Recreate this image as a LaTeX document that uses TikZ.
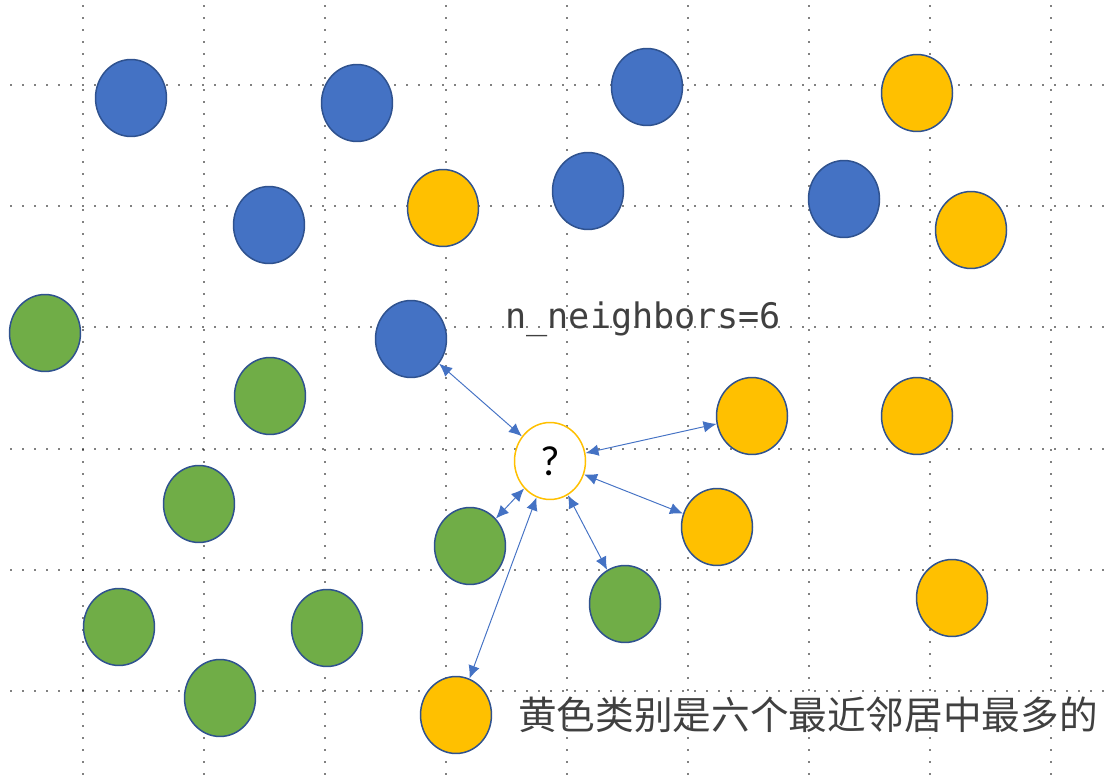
\documentclass[tikz,border=0pt]{standalone}
\usepackage{fontspec}
\usepackage{tikz}
\usetikzlibrary{shapes.geometric,arrows.meta}
\newfontfamily\cjk{Noto Sans CJK SC}
\newfontfamily\nbfont{DejaVu Sans Mono}
\newfontfamily\qfont{Carlito}
\definecolor{ptblue}{HTML}{4472C4}
\definecolor{ptyellow}{HTML}{FFC000}
\definecolor{ptgreen}{HTML}{70AD47}
\definecolor{ptedge}{HTML}{2F528F}
\definecolor{txtgray}{HTML}{404040}

\begin{document}
\begin{tikzpicture}[x=0.02cm,y=-0.02cm,
    pt/.style={ellipse,draw=ptedge,line width=0.85pt,minimum width=1.42cm,minimum height=1.54cm,inner sep=0pt},
    blue/.style={pt,fill=ptblue},
    yel/.style={pt,fill=ptyellow},
    grn/.style={pt,fill=ptgreen},
    link/.style={draw=ptblue,line width=0.55pt,{Latex[length=2.6mm,width=2.3mm]}-{Latex[length=2.6mm,width=2.3mm]}}]
    \useasboundingbox (0,0) rectangle (1118,783);
    % dotted grid
    \foreach \gy in {85,206,327,449,570,691}
        \foreach \gx in {11,23,...,1110}
            \fill (\gx,\gy) circle (0.5pt);
    \foreach \gx in {83,204,325,446,567,688,809,930,1051}
        \foreach \gy in {6,18,...,780}
            \fill (\gx,\gy) circle (0.5pt);

    \node at (131,98) [blue] (b1) {};
    \node at (357,103) [blue] (b2) {};
    \node at (647,87) [blue] (b3) {};
    \node at (269,225) [blue] (b4) {};
    \node at (588,191) [blue] (b5) {};
    \node at (844,199) [blue] (b6) {};
    \node at (411,339) [blue] (b7) {};

    \node at (917,93) [yel] (y1) {};
    \node at (443,208) [yel] (y2) {};
    \node at (971,230) [yel] (y3) {};
    \node at (752,416) [yel] (y4) {};
    \node at (917,416) [yel] (y5) {};
    \node at (717,527) [yel] (y6) {};
    \node at (952,598) [yel] (y7) {};
    \node at (456,715) [yel] (y8) {};

    \node at (45,333) [grn] (g1) {};
    \node at (270,396) [grn] (g2) {};
    \node at (199,504) [grn] (g3) {};
    \node at (470,546) [grn] (g4) {};
    \node at (625,604) [grn] (g5) {};
    \node at (119,627) [grn] (g6) {};
    \node at (327,628) [grn] (g7) {};
    \node at (220,698) [grn] (g8) {};

    \node at (550,461) [ellipse,draw=ptyellow,fill=white,line width=0.85pt,minimum width=1.42cm,minimum height=1.54cm,inner sep=0pt,font=\qfont\fontsize{24}{24}\selectfont] (q) {?};

    \node at (643,319) [text=txtgray,font=\nbfont\fontsize{20}{20}\selectfont] (nb) {n\_neighbors=6};
    \node at (808,715) [text=txtgray,font=\cjk\fontsize{22}{22}\selectfont] (note) {黄色类别是六个最近邻居中最多的};

    \draw[link] (q) -- (b7);
    \draw[link] (q) -- (y4);
    \draw[link] (q) -- (y6);
    \draw[link] (q) -- (g5);
    \draw[link] (q) -- (y8);
    \draw[link] (q) -- (g4);
\end{tikzpicture}
\end{document}
